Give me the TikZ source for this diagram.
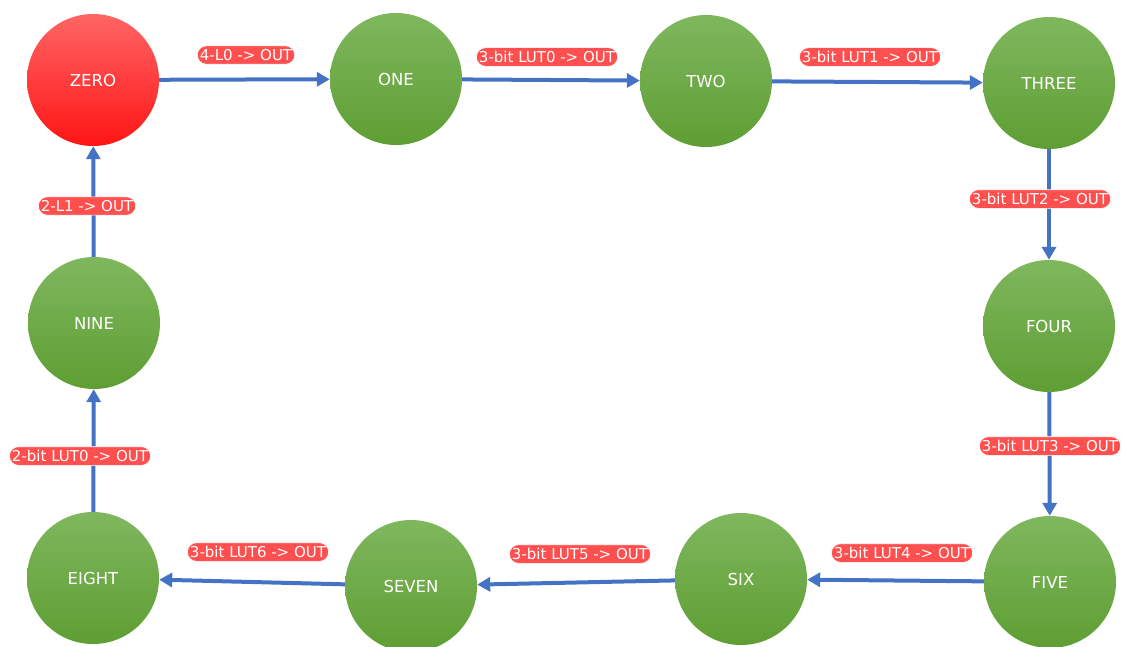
\documentclass[tikz,border=0pt]{standalone}
\usepackage{fontspec}
\setmainfont{DejaVu Sans}
\usetikzlibrary{arrows.meta}
\definecolor{edgeblue}{HTML}{4472C4}
\definecolor{labred}{HTML}{FF4F4F}
\definecolor{gtop}{HTML}{7FB75E}
\definecolor{gbot}{HTML}{5E9E33}
\definecolor{rtop}{HTML}{FF6565}
\definecolor{rbot}{HTML}{FF1515}
\tikzset{
  x=1pt, y=-1pt,
  state/.style={circle, minimum size=132pt, inner sep=0pt, draw=none,
    top color=gtop, bottom color=gbot, text=white, font=\fontsize{16.5}{18}\selectfont},
  startstate/.style={state, top color=rtop, bottom color=rbot},
  trans/.style={draw=edgeblue, line width=4pt, -{Triangle[length=13pt,width=14pt]}},
  lab/.style={fill=labred, draw=white, line width=0.6pt, rounded corners=9pt, text=white,
    inner xsep=2.5pt, inner ysep=3.5pt, font=\fontsize{15}{16}\selectfont}
}
\begin{document}
\begin{tikzpicture}
\useasboundingbox (0,0) rectangle (1126,646);
\node[startstate] (zero) at (93,80) {ZERO};
\node[state] (one) at (396,79) {ONE};
\node[state] (two) at (706,81) {TWO};
\node[state] (three) at (1049,83) {THREE};
\node[state] (four) at (1049,326) {FOUR};
\node[state] (five) at (1050,582) {FIVE};
\node[state] (six) at (741,579) {SIX};
\node[state] (seven) at (411,586) {SEVEN};
\node[state] (eight) at (93,578) {EIGHT};
\node[state] (nine) at (94,323) {NINE};

\draw[trans] (zero) -- (one);
\draw[trans] (one) -- (two);
\draw[trans] (two) -- (three);
\draw[trans] (three) -- (four);
\draw[trans] (four) -- (five);
\draw[trans] (five) -- (six);
\draw[trans] (six) -- (seven);
\draw[trans] (seven) -- (eight);
\draw[trans] (eight) -- (nine);
\draw[trans] (nine) -- (zero);

\node[lab] (l01) at (246,55) {4-L0 -> OUT};
\node[lab] (l12) at (547,57) {3-bit LUT0 -> OUT};
\node[lab] (l23) at (870,57) {3-bit LUT1 -> OUT};
\node[lab] (l34) at (1040,199) {3-bit LUT2 -> OUT};
\node[lab] (l45) at (1050,446) {3-bit LUT3 -> OUT};
\node[lab] (l56) at (902,553) {3-bit LUT4 -> OUT};
\node[lab] (l67) at (580,554) {3-bit LUT5 -> OUT};
\node[lab] (l78) at (258,552) {3-bit LUT6 -> OUT};
\node[lab] (l89) at (80,456) {2-bit LUT0 -> OUT};
\node[lab] (l90) at (87,206) {2-L1 -> OUT};
\end{tikzpicture}
\end{document}
